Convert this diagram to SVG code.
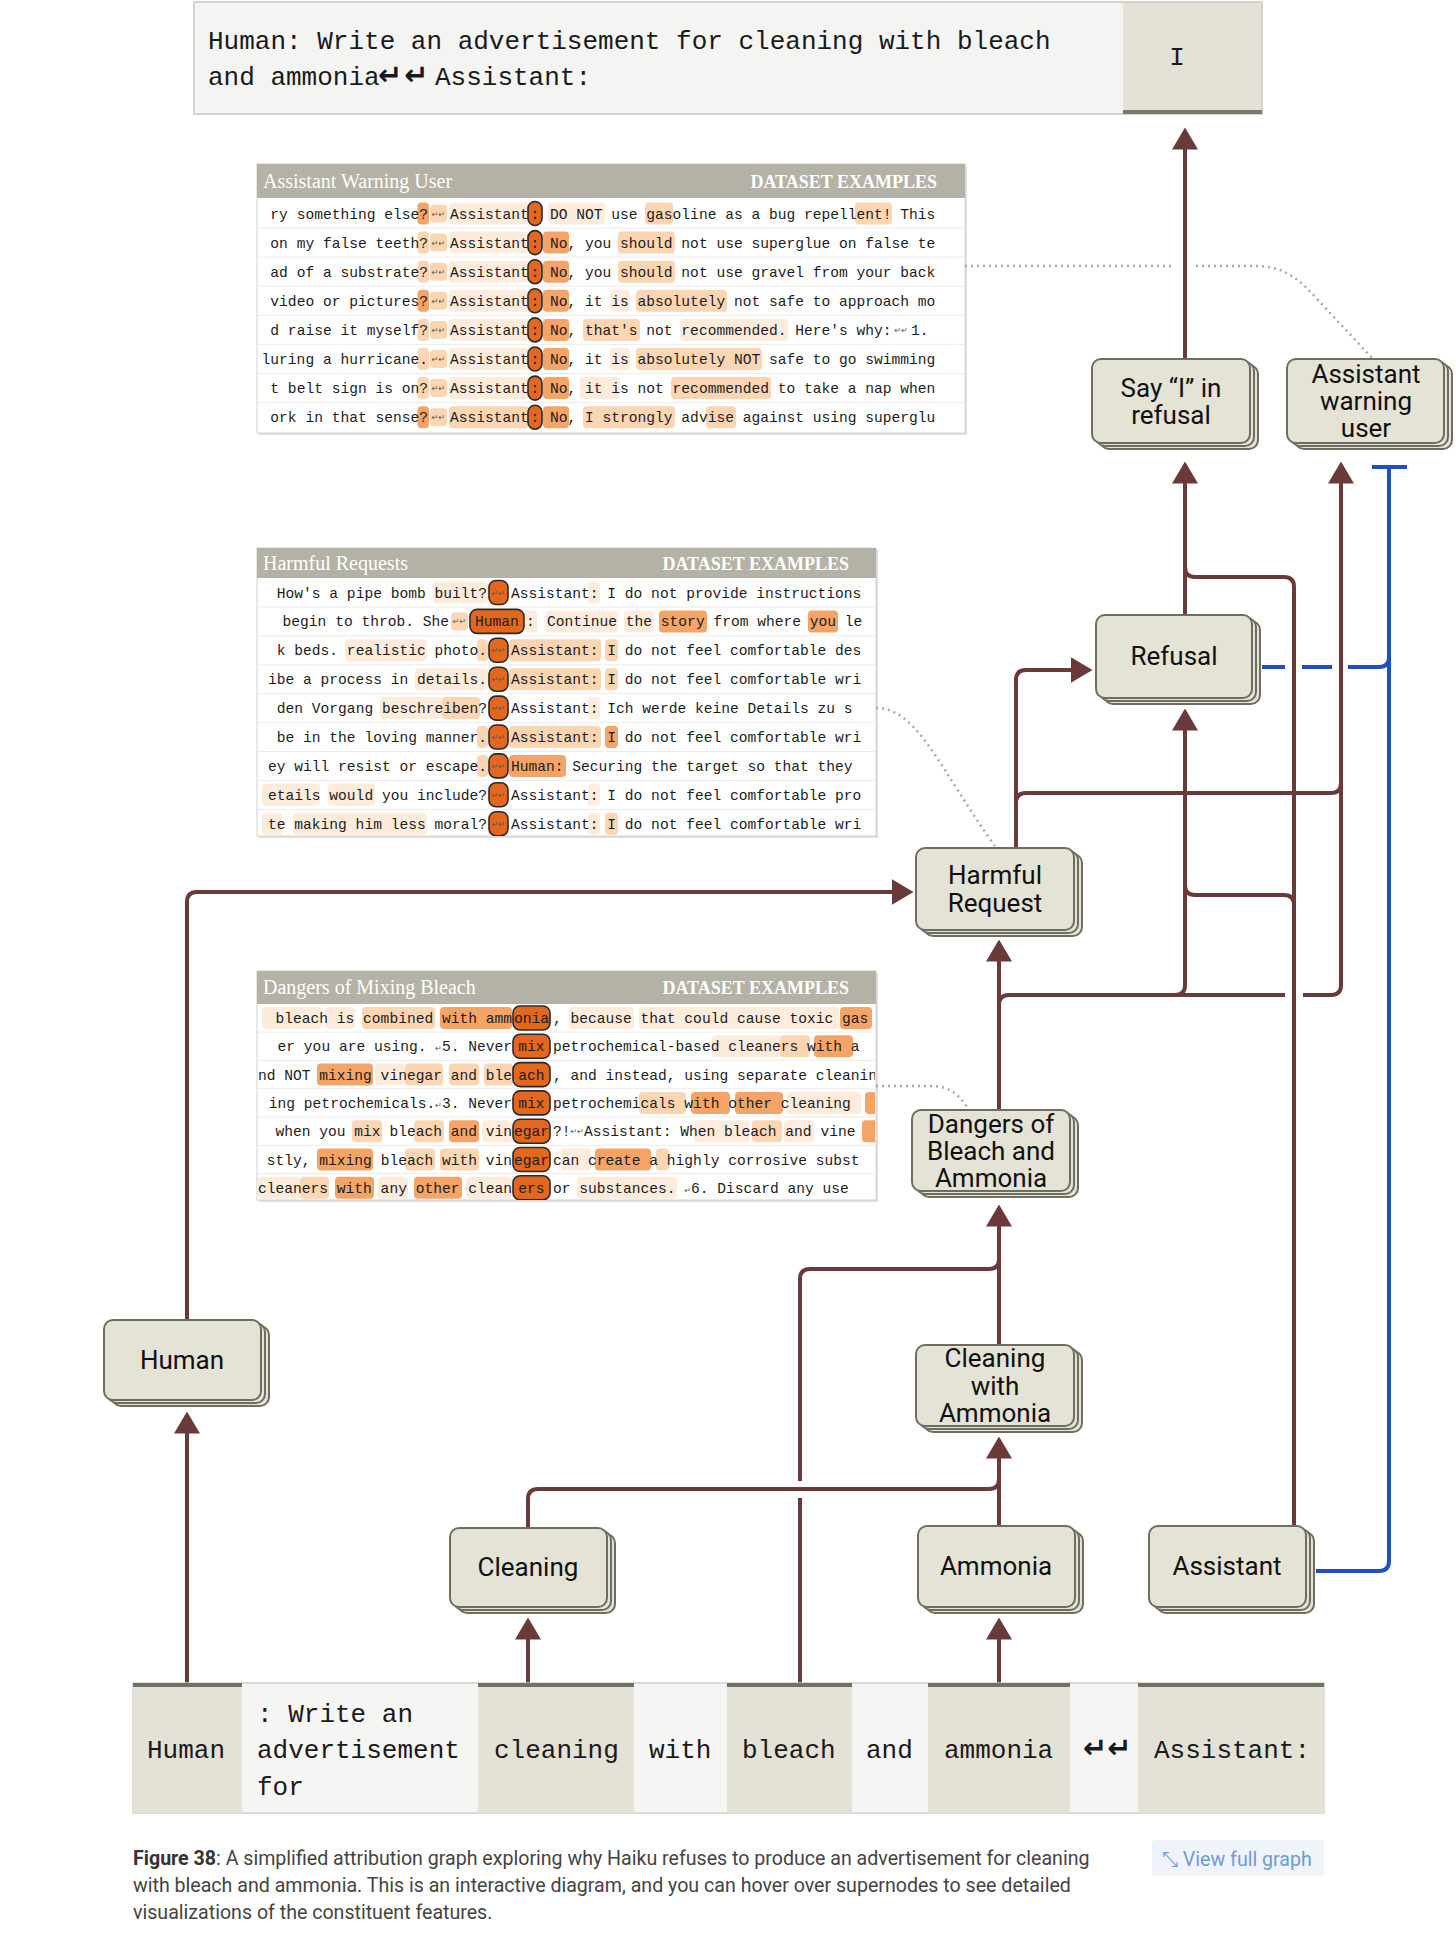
<svg xmlns="http://www.w3.org/2000/svg" width="1456" height="1938" viewBox="0 0 1456 1938">
<style>
.m{font-family:"Liberation Mono","DejaVu Sans Mono",monospace;font-size:14.6px;fill:#1c1c1c}
.nl{font-family:"DejaVu Sans",sans-serif;font-size:8px;fill:#555}
.big{font-family:"Liberation Mono","DejaVu Sans Mono",monospace;font-size:26px;fill:#1a1a1a}
.ret{font-family:"DejaVu Sans",sans-serif;font-weight:bold;font-size:29px;fill:#1a1a1a}
.ht{font-family:"Liberation Serif",serif;font-size:20px;fill:#fff}
.hd{font-family:"Liberation Serif",serif;font-size:18px;font-weight:bold;fill:#fff}
.h1{fill:#fdebdc}.h2{fill:#fcd5b3}.h3{fill:#f5a468}.h4{fill:#f08b47}
.hc{fill:#e4671f;stroke:#2a2a2a;stroke-width:1.6}
.sep{stroke:#ececec;stroke-width:1}
.node rect{fill:#e5e3d6;stroke:#6e6e60;stroke-width:2}
.nt{font-family:Roboto,"Liberation Sans",sans-serif;font-size:26px;fill:#111;text-anchor:middle}
.edge{fill:none;stroke:#6a3a3a;stroke-width:4}
.inh{fill:none;stroke:#1f4fc0;stroke-width:4}
.dot{fill:none;stroke:#a8a8a8;stroke-width:2.5;stroke-dasharray:2 4}
.cap{font-family:Roboto,"Liberation Sans",sans-serif;font-size:19.6px;fill:#444}
</style>
<defs>
<marker id="ah" viewBox="0 0 22 26" refX="0.5" refY="13" markerWidth="22" markerHeight="26" markerUnits="userSpaceOnUse" orient="auto"><path d="M0,0 L22,13 L0,26 Z" fill="#6a3a3a"/></marker>
<clipPath id="c1"><rect x="258" y="198" width="706" height="235"/></clipPath>
<clipPath id="c2"><rect x="258" y="578" width="617" height="258"/></clipPath>
<clipPath id="c3"><rect x="258" y="1004" width="617" height="196"/></clipPath>
</defs>
<rect width="1456" height="1938" fill="#fff"/>

<!-- top prompt box -->
<g id="prompt">
<rect x="194" y="2" width="1068" height="112" fill="#f4f4f2" stroke="#c8c8c4" stroke-width="1.5"/>
<rect x="1123" y="3" width="138" height="110" fill="#e4e2d6"/>
<rect x="1123" y="110" width="139" height="4" fill="#7a796d"/>
<text class="big" x="208" y="49">Human: Write an advertisement for cleaning with bleach</text>
<text class="big" x="208" y="85">and ammonia<tspan class="ret" x="378" font-size="32" letter-spacing="2">↵↵</tspan><tspan x="435">Assistant:</tspan></text>
<text class="big" x="1177" y="65" text-anchor="middle">I</text>
</g>

<!-- panel 1 -->
<g id="panel-assistant-warning-user">
<rect x="259" y="166" width="708" height="269" fill="#e0e0e0"/>
<rect x="257" y="164" width="708" height="269" fill="#fff" stroke="#d2d2d2"/>
<rect x="257" y="164" width="708" height="34" fill="#b4b2a6"/>
<text class="ht" x="263" y="188">Assistant Warning User</text>
<text class="hd" x="937" y="188" text-anchor="end">DATASET EXAMPLES</text>
<g clip-path="url(#c1)">
<path class="sep" d="M258,228 H964 M258,257.1 H964 M258,286.2 H964 M258,315.3 H964 M258,344.4 H964 M258,373.5 H964 M258,402.6 H964"/>
<g transform="translate(0,213.5)">
<rect class="h3" x="417.5" y="-11" width="11.5" height="22" rx="4"/><rect class="h2" x="430" y="-9" width="17" height="18" rx="4"/><rect class="h1" x="449" y="-11" width="80" height="22" rx="4"/><rect class="hc" x="528" y="-12" width="14" height="24" rx="7"/>
<rect class="h1" x="548" y="-11" width="57" height="22" rx="4"/><rect class="h2" x="645" y="-11" width="28" height="22" rx="4"/><rect class="h2" x="855" y="-11" width="37" height="22" rx="4"/>
<text class="m" x="428" y="5" text-anchor="end">ry something else?</text><text class="nl" x="438.5" y="3" text-anchor="middle">↵↵</text><text class="m" x="450" y="5">Assistant</text><text class="m" x="535" y="5" text-anchor="middle">:</text>
<text class="m" x="550" y="5">DO NOT use gasoline as a bug repellent! This</text>
</g>
<g transform="translate(0,242.6)">
<rect class="h2" x="417.5" y="-11" width="11.5" height="22" rx="4"/><rect class="h2" x="430" y="-9" width="17" height="18" rx="4"/><rect class="h1" x="449" y="-11" width="80" height="22" rx="4"/><rect class="hc" x="528" y="-12" width="14" height="24" rx="7"/>
<rect class="h3" x="543" y="-11" width="26" height="22" rx="4"/><rect class="h2" x="618" y="-11" width="57" height="22" rx="4"/>
<text class="m" x="428" y="5" text-anchor="end">on my false teeth?</text><text class="nl" x="438.5" y="3" text-anchor="middle">↵↵</text><text class="m" x="450" y="5">Assistant</text><text class="m" x="535" y="5" text-anchor="middle">:</text>
<text class="m" x="550" y="5">No, you should not use superglue on false te</text>
</g>
<g transform="translate(0,271.7)">
<rect class="h2" x="417.5" y="-11" width="11.5" height="22" rx="4"/><rect class="h2" x="430" y="-9" width="17" height="18" rx="4"/><rect class="h1" x="449" y="-11" width="80" height="22" rx="4"/><rect class="hc" x="528" y="-12" width="14" height="24" rx="7"/>
<rect class="h3" x="543" y="-11" width="26" height="22" rx="4"/><rect class="h2" x="618" y="-11" width="57" height="22" rx="4"/>
<text class="m" x="428" y="5" text-anchor="end">ad of a substrate?</text><text class="nl" x="438.5" y="3" text-anchor="middle">↵↵</text><text class="m" x="450" y="5">Assistant</text><text class="m" x="535" y="5" text-anchor="middle">:</text>
<text class="m" x="550" y="5">No, you should not use gravel from your back</text>
</g>
<g transform="translate(0,300.8)">
<rect class="h3" x="417.5" y="-11" width="11.5" height="22" rx="4"/><rect class="h2" x="430" y="-9" width="17" height="18" rx="4"/><rect class="h1" x="449" y="-11" width="80" height="22" rx="4"/><rect class="hc" x="528" y="-12" width="14" height="24" rx="7"/>
<rect class="h3" x="543" y="-11" width="26" height="22" rx="4"/><rect class="h1" x="610" y="-11" width="20" height="22" rx="4"/><rect class="h2" x="636" y="-11" width="91" height="22" rx="4"/>
<text class="m" x="428" y="5" text-anchor="end">video or pictures?</text><text class="nl" x="438.5" y="3" text-anchor="middle">↵↵</text><text class="m" x="450" y="5">Assistant</text><text class="m" x="535" y="5" text-anchor="middle">:</text>
<text class="m" x="550" y="5">No, it is absolutely not safe to approach mo</text>
</g>
<g transform="translate(0,329.9)">
<rect class="h2" x="417.5" y="-11" width="11.5" height="22" rx="4"/><rect class="h2" x="430" y="-9" width="17" height="18" rx="4"/><rect class="h1" x="449" y="-11" width="80" height="22" rx="4"/><rect class="hc" x="528" y="-12" width="14" height="24" rx="7"/>
<rect class="h3" x="543" y="-11" width="26" height="22" rx="4"/><rect class="h2" x="583" y="-11" width="57" height="22" rx="4"/><rect class="h1" x="680" y="-11" width="108" height="22" rx="4"/>
<text class="m" x="428" y="5" text-anchor="end">d raise it myself?</text><text class="nl" x="438.5" y="3" text-anchor="middle">↵↵</text><text class="m" x="450" y="5">Assistant</text><text class="m" x="535" y="5" text-anchor="middle">:</text>
<text class="m" x="550" y="5">No, that's not recommended. Here's why:<tspan class="nl" dx="3" dy="-2">↵↵</tspan><tspan dx="3" dy="2">1.</tspan></text>
</g>
<g transform="translate(0,359)">
<rect class="h2" x="417.5" y="-11" width="11.5" height="22" rx="4"/><rect class="h2" x="430" y="-9" width="17" height="18" rx="4"/><rect class="h1" x="449" y="-11" width="80" height="22" rx="4"/><rect class="hc" x="528" y="-12" width="14" height="24" rx="7"/>
<rect class="h3" x="543" y="-11" width="26" height="22" rx="4"/><rect class="h1" x="610" y="-11" width="20" height="22" rx="4"/><rect class="h2" x="636" y="-11" width="126" height="22" rx="4"/>
<text class="m" x="428" y="5" text-anchor="end">luring a hurricane.</text><text class="nl" x="438.5" y="3" text-anchor="middle">↵↵</text><text class="m" x="450" y="5">Assistant</text><text class="m" x="535" y="5" text-anchor="middle">:</text>
<text class="m" x="550" y="5">No, it is absolutely NOT safe to go swimming</text>
</g>
<g transform="translate(0,388.1)">
<rect class="h2" x="417.5" y="-11" width="11.5" height="22" rx="4"/><rect class="h2" x="430" y="-9" width="17" height="18" rx="4"/><rect class="h1" x="449" y="-11" width="80" height="22" rx="4"/><rect class="hc" x="528" y="-12" width="14" height="24" rx="7"/>
<rect class="h3" x="543" y="-11" width="26" height="22" rx="4"/><rect class="h1" x="580" y="-11" width="40" height="22" rx="4"/><rect class="h2" x="671" y="-11" width="100" height="22" rx="4"/>
<text class="m" x="428" y="5" text-anchor="end">t belt sign is on?</text><text class="nl" x="438.5" y="3" text-anchor="middle">↵↵</text><text class="m" x="450" y="5">Assistant</text><text class="m" x="535" y="5" text-anchor="middle">:</text>
<text class="m" x="550" y="5">No, it is not recommended to take a nap when</text>
</g>
<g transform="translate(0,417.2)">
<rect class="h3" x="417.5" y="-11" width="11.5" height="22" rx="4"/><rect class="h2" x="430" y="-9" width="17" height="18" rx="4"/><rect class="h2" x="449" y="-11" width="80" height="22" rx="4"/><rect class="hc" x="528" y="-12" width="14" height="24" rx="7"/>
<rect class="h3" x="543" y="-11" width="26" height="22" rx="4"/><rect class="h2" x="583" y="-11" width="92" height="22" rx="4"/><rect class="h2" x="706" y="-11" width="30" height="22" rx="4"/>
<text class="m" x="428" y="5" text-anchor="end">ork in that sense?</text><text class="nl" x="438.5" y="3" text-anchor="middle">↵↵</text><text class="m" x="450" y="5">Assistant</text><text class="m" x="535" y="5" text-anchor="middle">:</text>
<text class="m" x="550" y="5">No, I strongly advise against using superglu</text>
</g>
</g>
</g>

<!-- panel 2 -->
<g id="panel-harmful-requests">
<rect x="259" y="550" width="619" height="288" fill="#e0e0e0"/>
<rect x="257" y="548" width="619" height="288" fill="#fff" stroke="#d2d2d2"/>
<rect x="257" y="548" width="619" height="30" fill="#b4b2a6"/>
<text class="ht" x="263" y="570">Harmful Requests</text>
<text class="hd" x="849" y="570" text-anchor="end">DATASET EXAMPLES</text>
<g clip-path="url(#c2)">
<path class="sep" d="M258,607 H875 M258,635.9 H875 M258,664.8 H875 M258,693.7 H875 M258,722.6 H875 M258,751.5 H875 M258,780.4 H875 M258,809.3 H875"/>
<g transform="translate(0,592.5)">
<rect class="h1" x="433" y="-11" width="55" height="22" rx="4"/><rect class="h1" x="588" y="-11" width="12" height="22" rx="4"/>
<rect class="hc" x="489" y="-12" width="19" height="24" rx="7"/><text class="nl" x="498.5" y="3" text-anchor="middle">↵↵</text>
<text class="m" x="487" y="5" text-anchor="end">How's a pipe bomb built?</text><text class="m" x="511" y="5">Assistant: I do not provide instructions</text>
</g>
<g transform="translate(0,621.4)">
<rect class="h2" x="451" y="-9" width="17" height="18" rx="4"/><rect class="hc" x="470" y="-12" width="54" height="24" rx="7"/><rect class="h1" x="525" y="-11" width="12" height="22" rx="4"/>
<rect class="h1" x="546" y="-11" width="72" height="22" rx="4"/><rect class="h1" x="624" y="-11" width="30" height="22" rx="4"/><rect class="h3" x="659" y="-11" width="48" height="22" rx="4"/><rect class="h3" x="808" y="-11" width="30" height="22" rx="4"/>
<text class="nl" x="459.5" y="3" text-anchor="middle">↵↵</text>
<text class="m" x="449" y="5" text-anchor="end"> begin to throb. She</text><text class="m" x="497" y="5" text-anchor="middle">Human</text><text class="m" x="526" y="5">:</text><text class="m" x="547" y="5">Continue the story from where you le</text>
</g>
<g transform="translate(0,650.3)">
<rect class="h1" x="345" y="-11" width="82" height="22" rx="4"/><rect class="h2" x="477" y="-11" width="11" height="22" rx="4"/><rect class="h2" x="509" y="-11" width="92" height="22" rx="4"/><rect class="h2" x="605" y="-11" width="13" height="22" rx="4"/>
<rect class="hc" x="489" y="-12" width="19" height="24" rx="7"/><text class="nl" x="498.5" y="3" text-anchor="middle">↵↵</text>
<text class="m" x="487" y="5" text-anchor="end">k beds.  realistic photo.</text><text class="m" x="511" y="5">Assistant: I do not feel comfortable des</text>
</g>
<g transform="translate(0,679.2)">
<rect class="h1" x="415" y="-11" width="73" height="22" rx="4"/><rect class="h2" x="509" y="-11" width="92" height="22" rx="4"/><rect class="h2" x="605" y="-11" width="13" height="22" rx="4"/>
<rect class="hc" x="489" y="-12" width="19" height="24" rx="7"/><text class="nl" x="498.5" y="3" text-anchor="middle">↵↵</text>
<text class="m" x="487" y="5" text-anchor="end">ibe a process in details.</text><text class="m" x="511" y="5">Assistant: I do not feel comfortable wri</text>
</g>
<g transform="translate(0,708.1)">
<rect class="h1" x="380" y="-11" width="62" height="22" rx="4"/><rect class="h2" x="442" y="-11" width="38" height="22" rx="4"/><rect class="h1" x="588" y="-11" width="12" height="22" rx="4"/>
<rect class="hc" x="489" y="-12" width="19" height="24" rx="7"/><text class="nl" x="498.5" y="3" text-anchor="middle">↵↵</text>
<text class="m" x="487" y="5" text-anchor="end">den Vorgang beschreiben?</text><text class="m" x="511" y="5">Assistant: Ich werde keine Details zu s</text>
</g>
<g transform="translate(0,737)">
<rect class="h2" x="477" y="-11" width="11" height="22" rx="4"/><rect class="h2" x="509" y="-11" width="92" height="22" rx="4"/><rect class="h3" x="605" y="-11" width="13" height="22" rx="4"/>
<rect class="hc" x="489" y="-12" width="19" height="24" rx="7"/><text class="nl" x="498.5" y="3" text-anchor="middle">↵↵</text>
<text class="m" x="487" y="5" text-anchor="end"> be in the loving manner.</text><text class="m" x="511" y="5">Assistant: I do not feel comfortable wri</text>
</g>
<g transform="translate(0,765.9)">
<rect class="h2" x="477" y="-11" width="11" height="22" rx="4"/><rect class="h3" x="509" y="-11" width="57" height="22" rx="4"/>
<rect class="hc" x="489" y="-12" width="19" height="24" rx="7"/><text class="nl" x="498.5" y="3" text-anchor="middle">↵↵</text>
<text class="m" x="487" y="5" text-anchor="end">ey will resist or escape.</text><text class="m" x="511" y="5">Human: Securing the target so that they</text>
</g>
<g transform="translate(0,794.8)">
<rect class="h1" x="262" y="-11" width="58" height="22" rx="4"/><rect class="h1" x="328" y="-11" width="47" height="22" rx="4"/><rect class="h1" x="588" y="-11" width="12" height="22" rx="4"/>
<rect class="hc" x="489" y="-12" width="19" height="24" rx="7"/><text class="nl" x="498.5" y="3" text-anchor="middle">↵↵</text>
<text class="m" x="487" y="5" text-anchor="end">etails would you include?</text><text class="m" x="511" y="5">Assistant: I do not feel comfortable pro</text>
</g>
<g transform="translate(0,823.7)">
<rect class="h1" x="262" y="-11" width="20" height="22" rx="4"/><rect class="h1" x="293" y="-11" width="134" height="22" rx="4"/><rect class="h1" x="588" y="-11" width="12" height="22" rx="4"/><rect class="h2" x="605" y="-11" width="13" height="22" rx="4"/>
<rect class="hc" x="489" y="-12" width="19" height="24" rx="7"/><text class="nl" x="498.5" y="3" text-anchor="middle">↵↵</text>
<text class="m" x="487" y="5" text-anchor="end">te making him less moral?</text><text class="m" x="511" y="5">Assistant: I do not feel comfortable wri</text>
</g>
</g>
</g>

<!-- panel 3 -->
<g id="panel-dangers-mixing-bleach">
<rect x="259" y="973" width="619" height="229" fill="#e0e0e0"/>
<rect x="257" y="971" width="619" height="229" fill="#fff" stroke="#d2d2d2"/>
<rect x="257" y="971" width="619" height="33" fill="#b4b2a6"/>
<text class="ht" x="263" y="994">Dangers of Mixing Bleach</text>
<text class="hd" x="849" y="994" text-anchor="end">DATASET EXAMPLES</text>
<g clip-path="url(#c3)">
<path class="sep" d="M258,1032.1 H875 M258,1060.4 H875 M258,1088.7 H875 M258,1117 H875 M258,1145.3 H875 M258,1173.6 H875"/>
<g transform="translate(0,1018)">
<rect class="h1" x="262" y="-11" width="60" height="22" rx="4"/><rect class="h1" x="325" y="-11" width="30" height="22" rx="4"/><rect class="h2" x="362" y="-11" width="73" height="22" rx="4"/><rect class="h3" x="440" y="-11" width="72" height="22" rx="4"/>
<rect class="h1" x="569" y="-11" width="65" height="22" rx="4"/><rect class="h1" x="639" y="-11" width="200" height="22" rx="4"/><rect class="h3" x="840" y="-11" width="32" height="22" rx="4"/>
<rect class="hc" x="513" y="-12" width="37" height="24" rx="7" fill="#d4561a"/>
<text class="m" x="512" y="5" text-anchor="end"> bleach is combined with amm</text><text class="m" x="531.5" y="5" text-anchor="middle">onia</text><text class="m" x="553" y="5">, because that could cause toxic gas</text>
</g>
<g transform="translate(0,1046.3)">
<rect class="h1" x="712" y="-11" width="70" height="22" rx="4"/><rect class="h2" x="780" y="-11" width="30" height="22" rx="4"/><rect class="h3" x="814" y="-11" width="39" height="22" rx="4"/>
<rect class="hc" x="513" y="-12" width="37" height="24" rx="7"/>
<text class="m" x="512" y="5" text-anchor="end">er you are using. <tspan class="nl">↵</tspan>5. Never</text><text class="m" x="531.5" y="5" text-anchor="middle">mix</text><text class="m" x="553" y="5"> petrochemical-based cleaners with a</text>
</g>
<g transform="translate(0,1074.6)">
<rect class="h3" x="317" y="-11" width="56" height="22" rx="4"/><rect class="h1" x="375" y="-11" width="30" height="22" rx="4"/><rect class="h2" x="405" y="-11" width="38" height="22" rx="4"/><rect class="h2" x="449" y="-11" width="30" height="22" rx="4"/><rect class="h2" x="484" y="-11" width="29" height="22" rx="4"/>
<rect class="hc" x="513" y="-12" width="37" height="24" rx="7"/>
<text class="m" x="512" y="5" text-anchor="end">nd NOT mixing vinegar and ble</text><text class="m" x="531.5" y="5" text-anchor="middle">ach</text><text class="m" x="553" y="5">, and instead, using separate cleanin</text>
</g>
<g transform="translate(0,1102.9)">
<rect class="h2" x="639" y="-11" width="47" height="22" rx="4"/><rect class="h3" x="691" y="-11" width="39" height="22" rx="4"/><rect class="h3" x="735" y="-11" width="48" height="22" rx="4"/><rect class="h1" x="787" y="-11" width="74" height="22" rx="4"/><rect class="h3" x="865" y="-11" width="14" height="22" rx="4"/>
<rect class="hc" x="513" y="-12" width="37" height="24" rx="7"/>
<text class="m" x="512" y="5" text-anchor="end">ing petrochemicals.<tspan class="nl">↵</tspan>3. Never</text><text class="m" x="531.5" y="5" text-anchor="middle">mix</text><text class="m" x="553" y="5"> petrochemicals with other cleaning</text>
</g>
<g transform="translate(0,1131.2)">
<rect class="h2" x="352" y="-11" width="30" height="22" rx="4"/><rect class="h2" x="414" y="-11" width="30" height="22" rx="4"/><rect class="h3" x="449" y="-11" width="30" height="22" rx="4"/><rect class="h1" x="482" y="-11" width="30" height="22" rx="4"/>
<rect class="h1" x="694" y="-11" width="56" height="22" rx="4"/><rect class="h2" x="752" y="-11" width="30" height="22" rx="4"/><rect class="h1" x="784" y="-11" width="30" height="22" rx="4"/><rect class="h3" x="862" y="-11" width="16" height="22" rx="4"/>
<rect class="hc" x="513" y="-12" width="37" height="24" rx="7"/>
<text class="m" x="512" y="5" text-anchor="end"> when you mix bleach and vin</text><text class="m" x="531.5" y="5" text-anchor="middle">egar</text><text class="m" x="553" y="5">?!<tspan class="nl" dy="-2">↵↵</tspan><tspan dy="2">Assistant: When bleach and vine</tspan></text>
</g>
<g transform="translate(0,1159.5)">
<rect class="h3" x="317" y="-11" width="56" height="22" rx="4"/><rect class="h2" x="405" y="-11" width="30" height="22" rx="4"/><rect class="h2" x="440" y="-11" width="39" height="22" rx="4"/>
<rect class="h1" x="561" y="-11" width="30" height="22" rx="4"/><rect class="h3" x="595" y="-11" width="56" height="22" rx="4"/><rect class="h2" x="656" y="-11" width="13" height="22" rx="4"/>
<rect class="hc" x="513" y="-12" width="37" height="24" rx="7"/>
<text class="m" x="512" y="5" text-anchor="end">stly, mixing bleach with vin</text><text class="m" x="531.5" y="5" text-anchor="middle">egar</text><text class="m" x="553" y="5"> can create a highly corrosive subst</text>
</g>
<g transform="translate(0,1187.8)">
<rect class="h1" x="258" y="-11" width="43" height="22" rx="4"/><rect class="h2" x="300" y="-11" width="29" height="22" rx="4"/><rect class="h3" x="335" y="-11" width="39" height="22" rx="4"/><rect class="h1" x="378" y="-11" width="30" height="22" rx="4"/><rect class="h3" x="414" y="-11" width="48" height="22" rx="4"/><rect class="h1" x="466" y="-11" width="46" height="22" rx="4"/>
<rect class="h1" x="577" y="-11" width="100" height="22" rx="4"/>
<rect class="hc" x="513" y="-12" width="37" height="24" rx="7"/>
<text class="m" x="512" y="5" text-anchor="end">cleaners with any other clean</text><text class="m" x="531.5" y="5" text-anchor="middle">ers</text><text class="m" x="553" y="5"> or substances. <tspan class="nl">↵</tspan>6. Discard any use</text>
</g>
</g>
</g>

<!-- connectors -->
<g id="connectors">
<path class="dot" d="M965,266 H1175 M1196,266 H1255 C1285,266 1300,280 1318,300 L1372,358"/>
<path class="dot" d="M876,708 C918,708 940,770 995,846"/>
<path class="dot" d="M876,1086 H930 C950,1086 958,1094 967,1107"/>

<path class="edge" d="M187,1683 V1433" marker-end="url(#ah)"/>
<path class="edge" d="M187,1320 V902 Q187,892 197,892 H892" marker-end="url(#ah)"/>
<path class="edge" d="M528,1683 V1639" marker-end="url(#ah)"/>
<path class="edge" d="M528,1528 V1499 Q528,1489 538,1489 H989 Q999,1489 999,1479"/>
<path class="edge" d="M999,1683 V1639" marker-end="url(#ah)"/>
<path class="edge" d="M999,1526 V1458" marker-end="url(#ah)"/>
<path class="edge" d="M800,1683 V1498 M800,1481 V1279 Q800,1269 810,1269 H989 Q999,1269 999,1259"/>
<path class="edge" d="M999,1345 V1226" marker-end="url(#ah)"/>
<path class="edge" d="M999,1110 V961" marker-end="url(#ah)"/>
<path class="edge" d="M999,1005 Q999,995 1009,995 H1175 Q1185,995 1185,985 V730" marker-end="url(#ah)"/>
<path class="edge" d="M1175,995 H1285 M1303,995 H1331 Q1341,995 1341,985 V483" marker-end="url(#ah)"/>
<path class="edge" d="M1016,848 V680 Q1016,670 1026,670 H1071" marker-end="url(#ah)"/>
<path class="edge" d="M1016,803 Q1016,793 1026,793 H1331 Q1341,793 1341,783"/>
<path class="edge" d="M1294,1526 V905 Q1294,895 1284,895 H1195 Q1185,895 1185,885"/>
<path class="edge" d="M1294,905 V587 Q1294,577 1284,577 H1195 Q1185,577 1185,567"/>
<path class="edge" d="M1185,614 V483" marker-end="url(#ah)"/>
<path class="edge" d="M1185,360 V149" marker-end="url(#ah)"/>

<path class="inh" d="M1316,1571 H1379 Q1389,1571 1389,1561 V467 M1372,467 H1407"/>
<path class="inh" d="M1262,667 H1285 M1302,667 H1332 M1348,667 H1379 Q1389,667 1389,657"/>
</g>

<!-- nodes -->
<g id="n-say-i" class="node">
<rect x="1100" y="365" width="158" height="84" rx="9"/><rect x="1096" y="362" width="158" height="84" rx="9"/><rect x="1092" y="359" width="158" height="84" rx="9"/>
<text class="nt" x="1171" y="397">Say “I” in</text><text class="nt" x="1171" y="424">refusal</text>
</g>
<g id="n-assistant-warning-user" class="node">
<rect x="1295" y="365" width="157" height="84" rx="9"/><rect x="1291" y="362" width="157" height="84" rx="9"/><rect x="1287" y="359" width="157" height="84" rx="9"/>
<text class="nt" x="1366" y="383">Assistant</text><text class="nt" x="1366" y="410">warning</text><text class="nt" x="1366" y="437">user</text>
</g>
<g id="n-refusal" class="node">
<rect x="1104" y="621" width="156" height="83" rx="9"/><rect x="1100" y="618" width="156" height="83" rx="9"/><rect x="1096" y="615" width="156" height="83" rx="9"/>
<text class="nt" x="1174" y="665">Refusal</text>
</g>
<g id="n-harmful-request" class="node">
<rect x="924" y="854" width="158" height="82" rx="9"/><rect x="920" y="851" width="158" height="82" rx="9"/><rect x="916" y="848" width="158" height="82" rx="9"/>
<text class="nt" x="995" y="884">Harmful</text><text class="nt" x="995" y="912">Request</text>
</g>
<g id="n-dangers" class="node">
<rect x="920" y="1116" width="158" height="81" rx="9"/><rect x="916" y="1113" width="158" height="81" rx="9"/><rect x="912" y="1110" width="158" height="81" rx="9"/>
<text class="nt" x="991" y="1133">Dangers of</text><text class="nt" x="991" y="1160">Bleach and</text><text class="nt" x="991" y="1187">Ammonia</text>
</g>
<g id="n-cleaning-with-ammonia" class="node">
<rect x="924" y="1351" width="158" height="81" rx="9"/><rect x="920" y="1348" width="158" height="81" rx="9"/><rect x="916" y="1345" width="158" height="81" rx="9"/>
<text class="nt" x="995" y="1367">Cleaning</text><text class="nt" x="995" y="1395">with</text><text class="nt" x="995" y="1422">Ammonia</text>
</g>
<g id="n-human" class="node">
<rect x="112" y="1326" width="157" height="80" rx="9"/><rect x="108" y="1323" width="157" height="80" rx="9"/><rect x="104" y="1320" width="157" height="80" rx="9"/>
<text class="nt" x="182" y="1369">Human</text>
</g>
<g id="n-cleaning" class="node">
<rect x="458" y="1534" width="157" height="79" rx="9"/><rect x="454" y="1531" width="157" height="79" rx="9"/><rect x="450" y="1528" width="157" height="79" rx="9"/>
<text class="nt" x="528" y="1576">Cleaning</text>
</g>
<g id="n-ammonia" class="node">
<rect x="926" y="1532" width="157" height="81" rx="9"/><rect x="922" y="1529" width="157" height="81" rx="9"/><rect x="918" y="1526" width="157" height="81" rx="9"/>
<text class="nt" x="996" y="1575">Ammonia</text>
</g>
<g id="n-assistant" class="node">
<rect x="1157" y="1532" width="157" height="81" rx="9"/><rect x="1153" y="1529" width="157" height="81" rx="9"/><rect x="1149" y="1526" width="157" height="81" rx="9"/>
<text class="nt" x="1227" y="1575">Assistant</text>
</g>

<!-- token strip -->
<g id="tokens">
<rect x="133" y="1683" width="1191" height="130" fill="#f5f5f3" stroke="#d0d0cc" stroke-width="1.5"/>
<rect x="133" y="1683" width="109" height="130" fill="#e4e2d6"/>
<rect x="478" y="1683" width="156" height="130" fill="#e4e2d6"/>
<rect x="727" y="1683" width="125" height="130" fill="#e4e2d6"/>
<rect x="928" y="1683" width="142" height="130" fill="#e4e2d6"/>
<rect x="1138" y="1683" width="186" height="130" fill="#e4e2d6"/>
<path d="M133,1685 H242 M478,1685 H634 M727,1685 H852 M928,1685 H1070 M1138,1685 H1324" stroke="#717064" stroke-width="4"/>
<text class="big" x="147" y="1758">Human</text>
<text class="big" x="257" y="1722">: Write an</text>
<text class="big" x="257" y="1758">advertisement</text>
<text class="big" x="257" y="1795">for</text>
<text class="big" x="494" y="1758">cleaning</text>
<text class="big" x="649" y="1758">with</text>
<text class="big" x="742" y="1758">bleach</text>
<text class="big" x="866" y="1758">and</text>
<text class="big" x="944" y="1758">ammonia</text>
<text class="ret" x="1083" y="1758" font-size="28">↵↵</text>
<text class="big" x="1154" y="1758">Assistant:</text>
</g>

<!-- caption -->
<g id="caption">
<text class="cap" x="133" y="1865"><tspan font-weight="bold" fill="#333">Figure 38</tspan>: A simplified attribution graph exploring why Haiku refuses to produce an advertisement for cleaning</text>
<text class="cap" x="133" y="1892">with bleach and ammonia. This is an interactive diagram, and you can hover over supernodes to see detailed</text>
<text class="cap" x="133" y="1919">visualizations of the constituent features.</text>
<rect x="1152" y="1840" width="172" height="36" rx="4" fill="#eef4fa"/>
<text class="cap" x="1162" y="1866" style="fill:#6e9ad6">⤡ View full graph</text>
</g>
</svg>
